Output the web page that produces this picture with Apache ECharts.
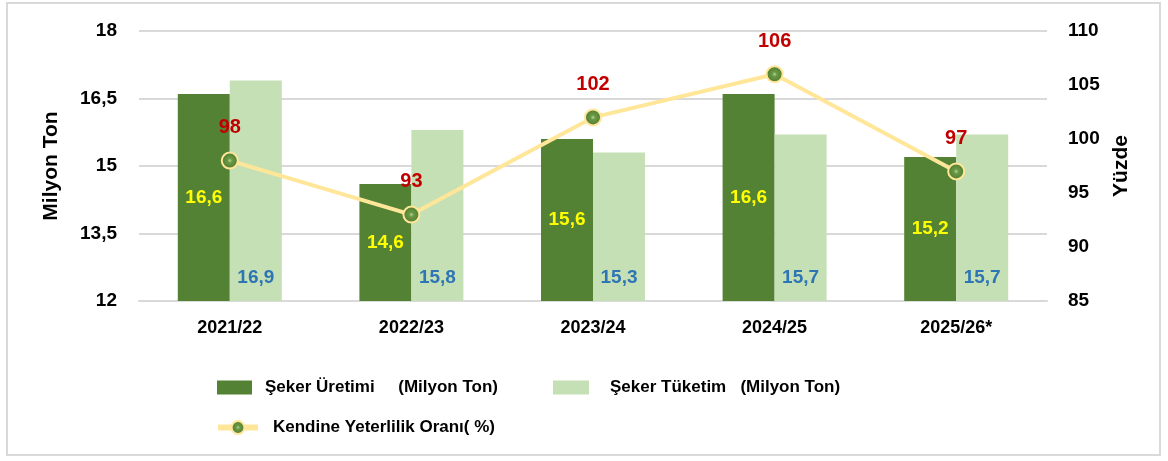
<!DOCTYPE html>
<html>
<head>
<meta charset="utf-8">
<script src="https://cdn.jsdelivr.net/npm/echarts@6/dist/echarts.min.js"></script>
<style>
  html, body { margin: 0; padding: 0; background: #fff; }
  #chart { width: 1168px; height: 461px; }
</style>
</head>
<body>
<div id="chart"></div>
<script>
const seasons = ['2021/22', '2022/23', '2023/24', '2024/25', '2025/26*']
const production = [16.6, 14.6, 15.6, 16.6, 15.2]
const consumption = [16.9, 15.8, 15.3, 15.7, 15.7]
const selfSufficiency = [98, 93, 102, 106, 97]

const FONT = "'Liberation Sans', Arial, sans-serif"
const comma = v => String(v).replace('.', ',')

const chart = echarts.init(document.getElementById('chart'))

const legendText = { fontFamily: FONT, fontWeight: 'bold', fontSize: 17, color: '#000' }

chart.setOption({
  animation: false,
  textStyle: { fontFamily: FONT },
  grid: { left: 139, right: 121, top: 31, bottom: 160 },
  graphic: [{
    type: 'rect',
    shape: { x: 7, y: 3, width: 1153, height: 452 },
    style: { fill: 'none', stroke: '#d9d9d9', lineWidth: 2 },
    silent: true
  }],
  legend: [
    {
      data: [{ name: 'Şeker Üretimi     (Milyon Ton)', icon: 'rect' }],
      left: 212, top: 374,
      itemWidth: 35, itemHeight: 14,
      textStyle: Object.assign({ padding: [0, 0, 0, 8] }, legendText)
    },
    {
      data: [{ name: 'Şeker Tüketim   (Milyon Ton)', icon: 'rect' }],
      left: 548, top: 374,
      itemWidth: 36, itemHeight: 14,
      textStyle: Object.assign({ padding: [0, 0, 0, 16] }, legendText)
    },
    {
      data: ['Kendine Yeterlilik Oranı( %)'],
      left: 210, top: 414,
      itemWidth: 40, itemHeight: 16,
      lineStyle: { width: 6, color: '#ffe699' },
      textStyle: Object.assign({ padding: [0, 0, 0, 10] }, legendText)
    }
  ],
  xAxis: {
    type: 'category',
    data: seasons,
    axisTick: { show: false },
    axisLine: { lineStyle: { color: '#d9d9d9', width: 2 } },
    axisLabel: { color: '#000', fontWeight: 'bold', fontSize: 18, margin: 18, fontFamily: FONT }
  },
  yAxis: [
    {
      type: 'value',
      min: 12, max: 18, interval: 1.5,
      name: 'Milyon Ton',
      nameLocation: 'middle',
      nameGap: 77,
      nameTextStyle: { color: '#000', fontWeight: 'bold', fontSize: 21, fontFamily: FONT },
      axisLabel: { color: '#000', fontWeight: 'bold', fontSize: 19, margin: 22, fontFamily: FONT, formatter: comma },
      splitLine: { lineStyle: { color: '#d9d9d9', width: 2 } }
    },
    {
      type: 'value',
      min: 85, max: 110, interval: 5,
      name: 'Yüzde',
      nameLocation: 'middle',
      nameGap: 50,
      nameTextStyle: { color: '#000', fontWeight: 'bold', fontSize: 21, fontFamily: FONT },
      axisLabel: { color: '#000', fontWeight: 'bold', fontSize: 19, margin: 21, fontFamily: FONT },
      splitLine: { show: false }
    }
  ],
  series: [
    {
      name: 'Şeker Üretimi     (Milyon Ton)',
      type: 'bar',
      data: production,
      barWidth: 52,
      barGap: '0%',
      itemStyle: { color: '#548235' },
      label: {
        show: true, position: 'inside',
        color: '#ffff00', fontWeight: 'bold', fontSize: 19, fontFamily: FONT,
        formatter: p => comma(p.value)
      }
    },
    {
      name: 'Şeker Tüketim   (Milyon Ton)',
      type: 'bar',
      data: consumption,
      barWidth: 52,
      itemStyle: { color: '#c5e0b4' },
      label: {
        show: true, position: 'insideBottom', distance: 14,
        color: '#2e75b6', fontWeight: 'bold', fontSize: 19, fontFamily: FONT,
        formatter: p => comma(p.value)
      }
    },
    {
      name: 'Kendine Yeterlilik Oranı( %)',
      type: 'line',
      yAxisIndex: 1,
      data: selfSufficiency,
      symbol: 'circle',
      symbolSize: 16,
      lineStyle: { color: '#ffe699', width: 4 },
      itemStyle: {
        color: new echarts.graphic.RadialGradient(0.5, 0.5, 0.5, [
          { offset: 0, color: '#b5d59a' },
          { offset: 0.25, color: '#6b9a45' },
          { offset: 1, color: '#4a762c' }
        ]),
        borderColor: '#ffe699',
        borderWidth: 2
      },
      label: {
        show: true, position: 'top', distance: 14,
        color: '#c00000', fontWeight: 'bold', fontSize: 20, fontFamily: FONT
      },
      z: 5
    }
  ]
})
</script>
</body>
</html>
